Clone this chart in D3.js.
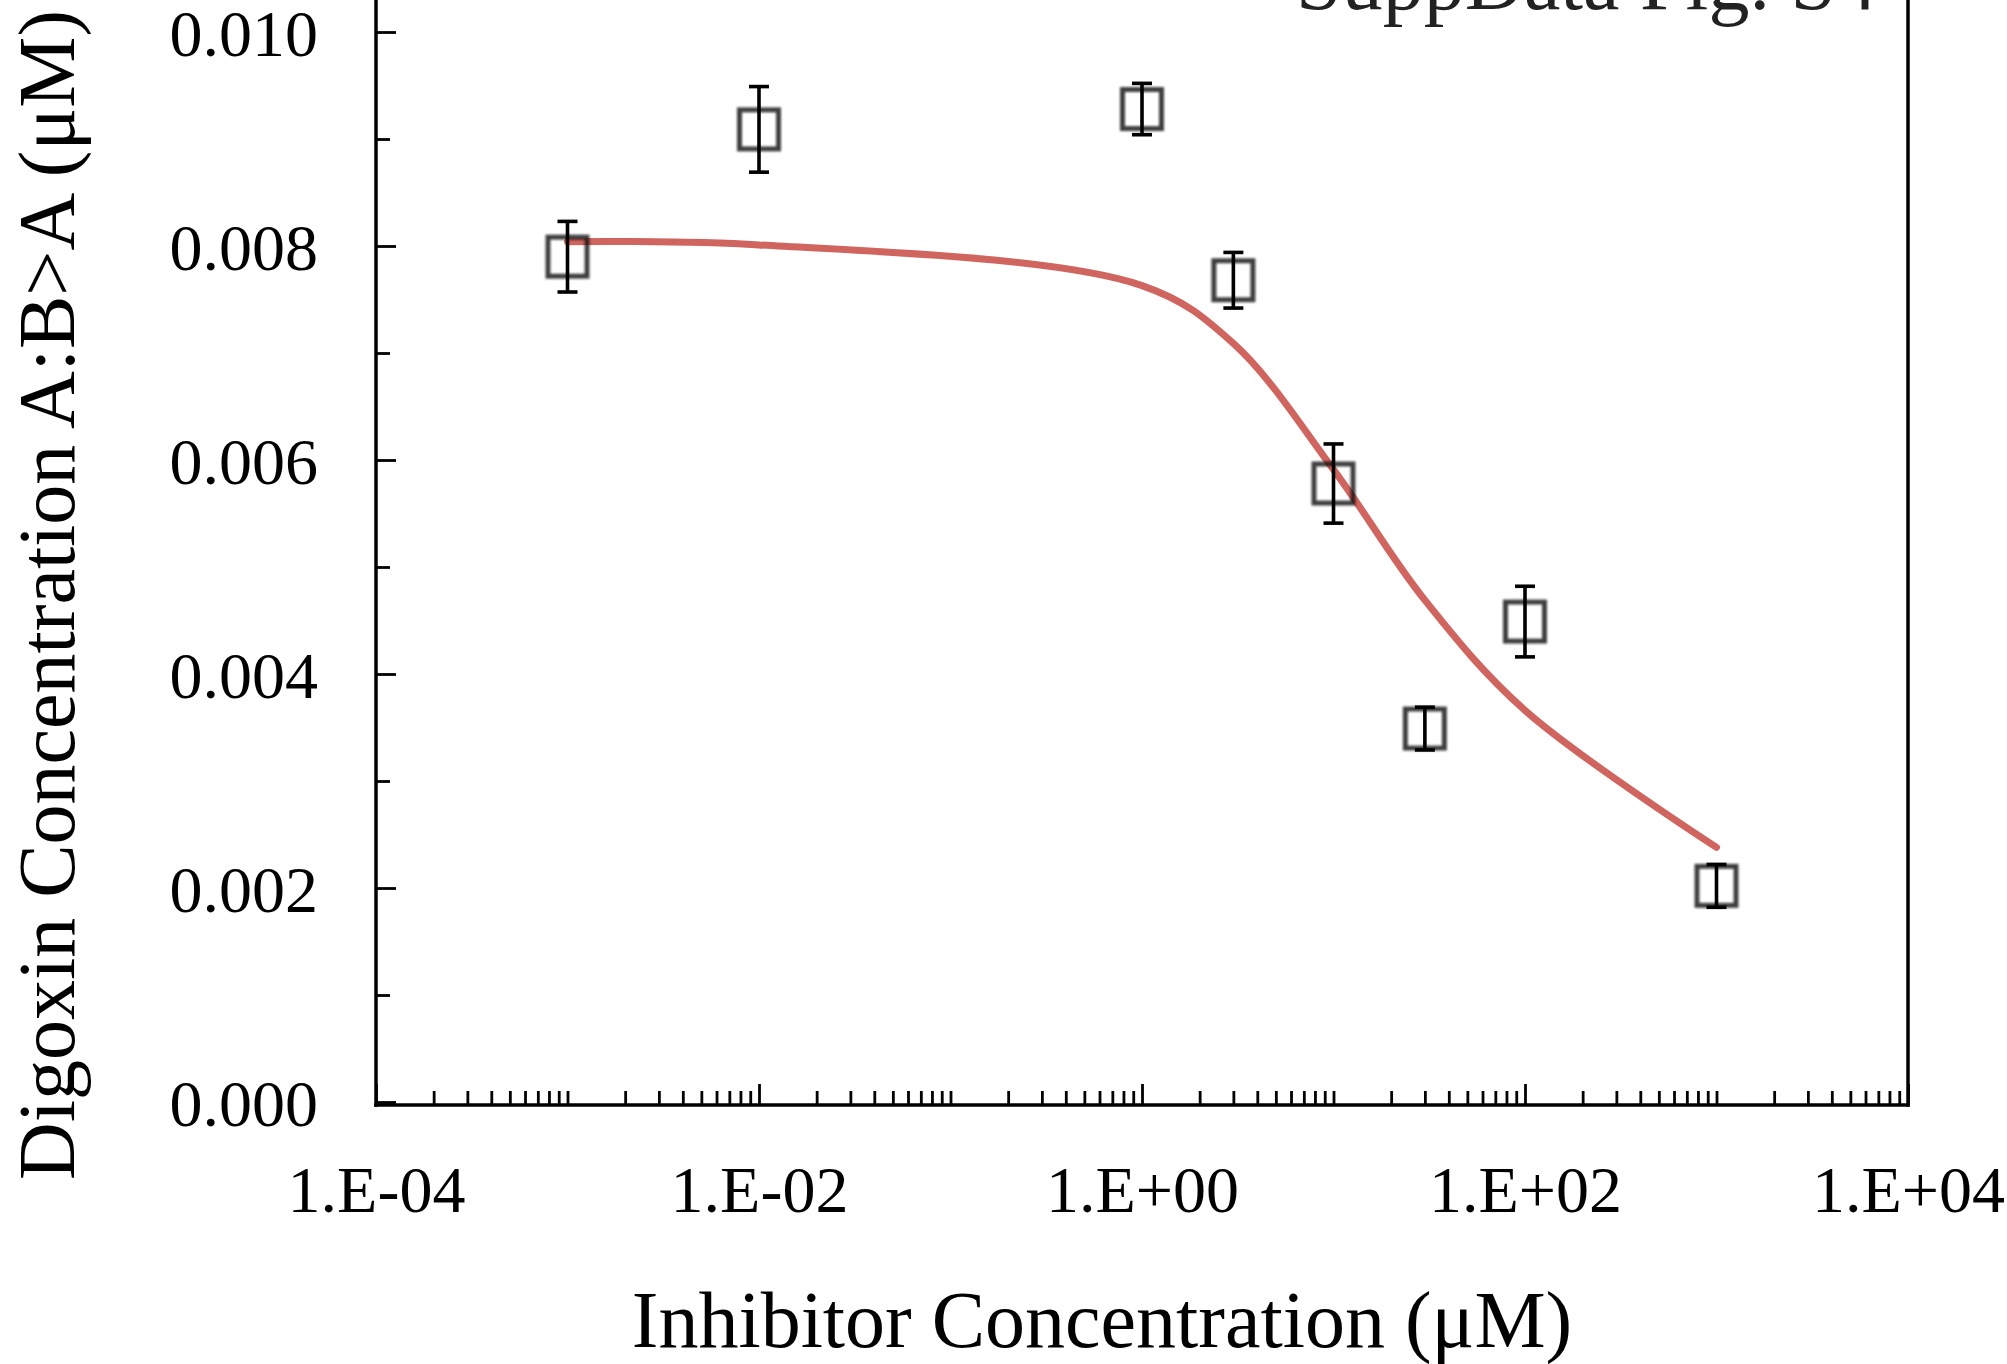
<!DOCTYPE html>
<html>
<head>
<meta charset="utf-8">
<script src="https://cdn.jsdelivr.net/npm/d3@7/dist/d3.min.js"></script>
<style>
  html, body { margin: 0; padding: 0; background: #fff; }
  svg { display: block; }
  text { font-family: "Liberation Serif", "Times New Roman", "DejaVu Serif", serif; }
</style>
</head>
<body>
<svg id="chart" width="2007" height="1364"></svg>
<script>
// Inhibitor concentrations (µM)
const concentrations = [0.001, 0.01, 1, 3, 10, 30, 100, 1000];
// Measured digoxin A:B>A concentration (µM), mean and error
const measured = [0.00790, 0.00909, 0.00928, 0.00768, 0.00578, 0.00349, 0.00449, 0.00202];
const errors   = [0.00033, 0.00040, 0.00024, 0.00026, 0.00037, 0.00020, 0.00033, 0.00020];
// Fitted inhibition curve evaluated at each concentration
const fitted   = [0.00804, 0.00801, 0.00763, 0.00709, 0.00591, 0.00469, 0.00366, 0.00238];

// Axis ticks
const xMajorTicks = [1e-4, 1e-2, 1e0, 1e2, 1e4];
const yMajorTicks = [0, 0.002, 0.004, 0.006, 0.008, 0.010];
const yMinorTicks = [0.001, 0.003, 0.005, 0.007, 0.009];

const svg = d3.select("#chart");

const left = 376, right = 1908, bottom = 1105;

const x = d3.scaleLog().domain([1e-4, 1e4]).range([left, right]);
const y = d3.scaleLinear().domain([0, 0.010]).range([1102, 32]);

// log minor ticks: 2..9 in every decade plus the unlabeled decades
const xMinorTicks = [];
for (let e = -4; e < 4; e++) {
  for (let k = 1; k <= 9; k++) {
    if (k === 1 && e % 2 === 0) continue;
    xMinorTicks.push(k * Math.pow(10, e));
  }
}

const expLabel = d => {
  const e = Math.round(Math.log10(d));
  return "1.E" + (e < 0 ? "-" : "+") + String(Math.abs(e)).padStart(2, "0");
};

const serif = '"Liberation Serif", "Times New Roman", serif';

// ----- y axis -----
const gy = svg.append("g").attr("transform", `translate(${left},0)`);
gy.call(d3.axisLeft(y).tickValues(yMinorTicks).tickSizeInner(-14).tickSizeOuter(0).tickFormat(""));
gy.select(".domain").remove();
const gyMajor = svg.append("g").attr("transform", `translate(${left},0)`);
gyMajor.call(d3.axisLeft(y).tickValues(yMajorTicks).tickSizeInner(-20).tickSizeOuter(0)
  .tickPadding(58).tickFormat(d3.format(".3f")));
gyMajor.select(".domain").remove();
gyMajor.selectAll("text")
  .attr("dy", "0.35em")
  .attr("font-size", 66)
  .attr("fill", "#000")
  .style("font-family", serif);

// ----- x axis -----
const gx = svg.append("g").attr("transform", `translate(0,${bottom})`);
gx.call(d3.axisBottom(x).tickValues(xMinorTicks).tickSizeInner(-14).tickSizeOuter(0).tickFormat(""));
gx.select(".domain").remove();
const gxMajor = svg.append("g").attr("transform", `translate(0,${bottom})`);
gxMajor.call(d3.axisBottom(x).tickValues(xMajorTicks).tickSizeInner(-21).tickSizeOuter(0).tickFormat(expLabel));
gxMajor.select(".domain").remove();
gxMajor.selectAll("text")
  .attr("y", 107).attr("dy", 0)
  .attr("font-size", 66)
  .attr("fill", "#000")
  .style("font-family", serif);

svg.selectAll(".tick line").attr("stroke", "#000").attr("stroke-width", 2.8);

// ----- frame -----
const frame = svg.append("g").attr("stroke", "#000").attr("stroke-width", 3.5).attr("fill", "none");
frame.append("line").attr("x1", left).attr("x2", left).attr("y1", 0).attr("y2", bottom + 1.75);
frame.append("line").attr("x1", right).attr("x2", right).attr("y1", 0).attr("y2", bottom + 1.75);
frame.append("line").attr("x1", left - 1.75).attr("x2", right + 1.75).attr("y1", bottom).attr("y2", bottom);

// ----- fitted curve -----
const pts = concentrations.map((c, i) => [c, fitted[i]]);
svg.append("path")
  .datum(pts)
  .attr("fill", "none")
  .attr("stroke", "#cd5c55")
  .attr("stroke-width", 7)
  .attr("stroke-linecap", "round")
  .attr("stroke-opacity", 0.95)
  .attr("d", d3.line().x(d => x(d[0])).y(d => y(d[1])).curve(d3.curveCatmullRom.alpha(0.5)));

// ----- markers -----
const defs = svg.append("defs");
defs.append("filter").attr("id", "soft").attr("x", "-20%").attr("y", "-20%").attr("width", "140%").attr("height", "140%")
  .append("feGaussianBlur").attr("stdDeviation", 0.8);

const box = 39;
svg.append("g").attr("filter", "url(#soft)")
  .selectAll("rect")
  .data(concentrations)
  .join("rect")
  .attr("x", d => x(d) - box / 2)
  .attr("y", (d, i) => y(measured[i]) - box / 2)
  .attr("width", box)
  .attr("height", box)
  .attr("fill", "none")
  .attr("stroke", "#111")
  .attr("stroke-opacity", 0.8)
  .attr("stroke-width", 5);

// ----- error bars -----
const cap = 20;
const eb = svg.append("g").attr("stroke", "#000").attr("stroke-width", 3.6);
concentrations.forEach((c, i) => {
  const cx = x(c), top = y(measured[i] + errors[i]), bot = y(measured[i] - errors[i]);
  eb.append("line").attr("x1", cx).attr("x2", cx).attr("y1", top).attr("y2", bot);
  eb.append("line").attr("x1", cx - cap / 2).attr("x2", cx + cap / 2).attr("y1", top).attr("y2", top);
  eb.append("line").attr("x1", cx - cap / 2).attr("x2", cx + cap / 2).attr("y1", bot).attr("y2", bot);
});

// ----- titles -----
svg.append("text")
  .attr("transform", "translate(74,595) rotate(-90)")
  .attr("text-anchor", "middle")
  .attr("font-size", 80)
  .attr("fill", "#000")
  .text("Digoxin Concentration A:B>A (μM)");

svg.append("text")
  .attr("x", 1102).attr("y", 1347)
  .attr("text-anchor", "middle")
  .attr("font-size", 80)
  .attr("fill", "#000")
  .text("Inhibitor Concentration (μM)");

svg.append("text")
  .attr("x", 1877).attr("y", 9)
  .attr("text-anchor", "end")
  .attr("font-size", 82)
  .attr("fill", "#222")
  .text("SuppData Fig. S4");
</script>
</body>
</html>
